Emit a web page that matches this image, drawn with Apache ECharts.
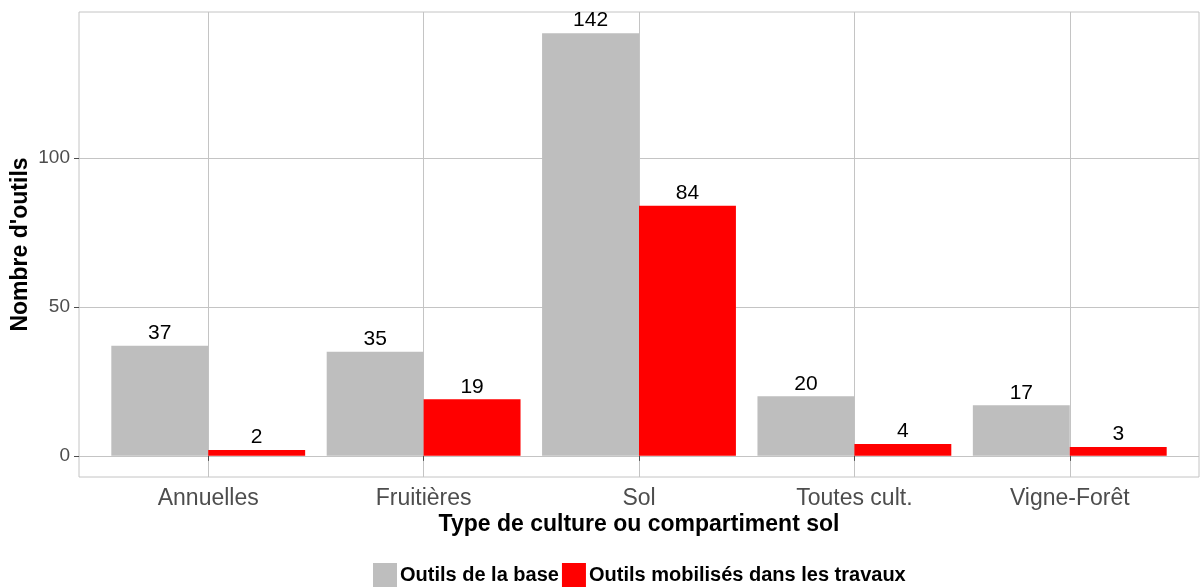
<!DOCTYPE html>
<html>
<head>
<meta charset="utf-8">
<script src="https://cdn.jsdelivr.net/npm/echarts@6/dist/echarts.min.js"></script>
<style>
html,body{margin:0;padding:0;background:#fff;}
#chart{width:1201px;height:587px;}
</style>
</head>
<body>
<div id="chart"></div>
<script>
const categories = ['Annuelles', 'Fruitières', 'Sol', 'Toutes cult.', 'Vigne-Forêt'];
const seriesNames = ['Outils de la base', 'Outils mobilisés dans les travaux'];
const baseValues = [37, 35, 142, 20, 17];
const mobilisesValues = [2, 19, 84, 4, 3];
const yTicks = [0, 50, 100];
const xPositions = [1, 2, 3, 4, 5];

const toPairs = vals => vals.map((v, i) => [xPositions[i], v]);

const labelStyle = {
  show: true,
  position: 'top',
  distance: 2,
  color: '#000',
  fontSize: 21,
  fontFamily: 'Liberation Sans, Arial, sans-serif'
};

const chart = echarts.init(document.getElementById('chart'), null, {renderer: 'canvas'});
chart.setOption({
  animation: false,
  backgroundColor: '#fff',
  textStyle: {fontFamily: 'Liberation Sans, Arial, sans-serif'},
  grid: {
    left: 79, right: 2, top: 12, bottom: 110,
    containLabel: false,
    outerBoundsMode: 'none',
    show: true, borderColor: '#c4c4c4', borderWidth: 1, backgroundColor: 'transparent'
  },
  xAxis: {
    type: 'value',
    min: 0.4, max: 5.6,
    axisLine: {show: false},
    axisTick: {show: true, length: 5, lineStyle: {color: '#4d4d4d'}, customValues: xPositions},
    axisLabel: {
      customValues: xPositions,
      formatter: v => categories[Math.round(v) - 1] || '',
      color: '#4d4d4d', fontSize: 23, margin: 10
    },
    splitLine: {show: true, lineStyle: {color: '#c4c4c4', width: 1}},
    name: 'Type de culture ou compartiment sol',
    nameLocation: 'middle',
    nameMoveOverlap: false,
    nameGap: 36,
    nameTextStyle: {color: '#000', fontSize: 23, fontWeight: 'bold'}
  },
  yAxis: {
    type: 'value',
    min: -7.1, max: 149.1,
    axisLine: {show: false},
    axisTick: {show: true, length: 5, lineStyle: {color: '#4d4d4d'}, customValues: yTicks},
    axisLabel: {customValues: yTicks, color: '#4d4d4d', fontSize: 19, margin: 9},
    splitLine: {show: true, lineStyle: {color: '#c4c4c4', width: 1}},
    name: "Nombre d'outils",
    nameLocation: 'middle',
    nameMoveOverlap: false,
    nameGap: 47,
    nameTextStyle: {color: '#000', fontSize: 23, fontWeight: 'bold'}
  },
  legend: {
    top: 563,
    left: 373,
    padding: 0,
    itemWidth: 24,
    itemHeight: 25,
    itemGap: 3,
    icon: 'rect',
    textStyle: {color: '#000', fontSize: 20, fontWeight: 'bold', padding: [2, 0, 0, -2]},
    data: seriesNames
  },
  series: [
    {
      name: seriesNames[0], type: 'bar', data: toPairs(baseValues),
      barWidth: '45%', barGap: '0%',
      itemStyle: {color: '#bebebe'},
      label: labelStyle
    },
    {
      name: seriesNames[1], type: 'bar', data: toPairs(mobilisesValues),
      barWidth: '45%', barGap: '0%',
      itemStyle: {color: '#ff0000'},
      label: labelStyle
    }
  ]
});
</script>
</body>
</html>
